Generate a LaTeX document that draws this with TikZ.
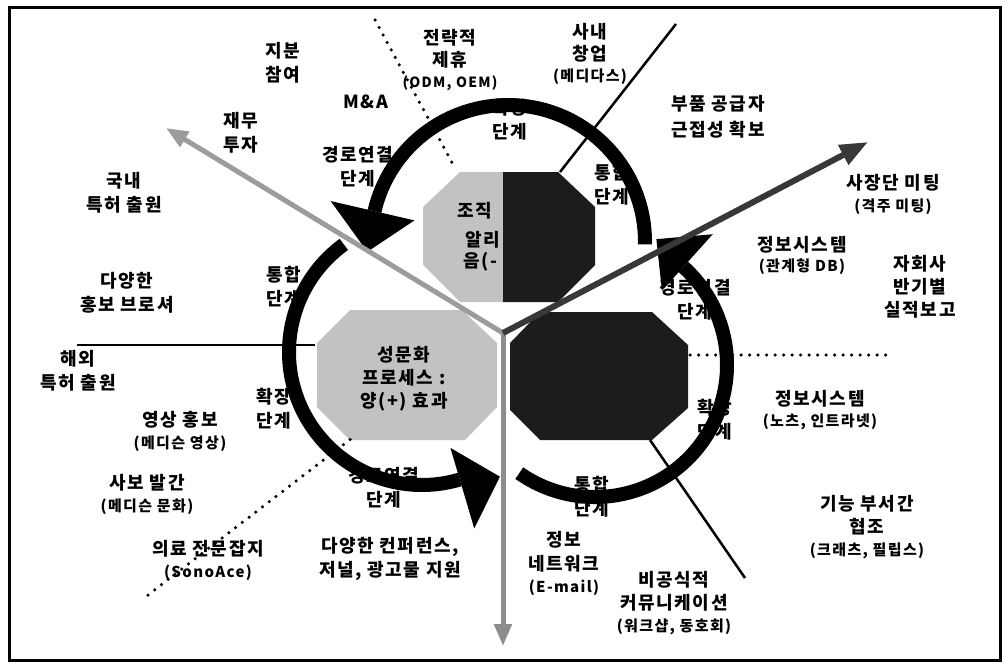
\documentclass[tikz,border=0pt]{standalone}
\usepackage{fontspec}
\newfontfamily\kr[LetterSpace=9]{Noto Sans CJK KR}
\usetikzlibrary{calc,arrows.meta}
\definecolor{lightfill}{HTML}{C2C2C2}
\definecolor{darkfill}{HTML}{1C1C1C}
\definecolor{arrowgray}{HTML}{9C9C9C}
\definecolor{arrowdark}{HTML}{383838}
\newcommand\sm[1]{{\fontsize{15}{18}\selectfont #1}}
\tikzset{
  lbl/.style={align=center, inner sep=0pt, font=\kr\bfseries\fontsize{18}{24}\selectfont},
  ring/.style={line width=14pt, black},
  headfill/.style={fill=black},
  thinline/.style={line width=2.5pt, black},
  dotline/.style={line width=3.5pt, line cap=round, dash pattern=on 0pt off 8.5pt},
  grayarrow/.style={line width=5pt, arrowgray, -{Triangle[length=22pt,width=17pt]}},
  darkarrow/.style={line width=6pt, arrowdark, -{Triangle[length=28pt,width=21pt]}},
}
\begin{document}
\begin{tikzpicture}[x=1pt,y=-1pt]
\useasboundingbox (0,0) rectangle (1006,664);
\draw[line width=3pt] (9.5,7.5) rectangle (1000,660.5);

% key points
\coordinate (O) at (503,333);
\coordinate (C1) at (508,242);
\coordinate (C2) at (422,352);
\coordinate (C3) at (595,365);

% octagons
\fill[lightfill] (460,172) -- (558,172) -- (595,207) -- (595,265) -- (558,302) -- (460,302) -- (423,265) -- (423,207) -- cycle;
\node[lbl] (t1) at (475,211) {조직};
\node[lbl, anchor=west] (t2) at (465,240) {알리};
\node[lbl, anchor=west] (t3) at (463,262) {음(-};
\fill[darkfill] (503,172) -- (558,172) -- (595,207) -- (595,265) -- (558,302) -- (503,302) -- cycle;

\fill[lightfill] (350,310) -- (462,310) -- (497,343) -- (497,407) -- (465,440) -- (350,440) -- (317,407) -- (317,343) -- cycle;
\node[lbl, font=\kr\bfseries\fontsize{18}{23}\selectfont] (oct2) at (404,379) {성문화\\프로세스 :\\양(+) 효과};

\fill[darkfill] (540,312) -- (652,312) -- (688,345) -- (688,408) -- (652,440) -- (540,440) -- (510,410) -- (510,343) -- cycle;

% side lines
\coordinate (a1) at (560,172); \coordinate (a2) at (676,24);
\draw[thinline] (a1) -- (a2);
\coordinate (b1) at (77,345); \coordinate (b2) at (315,345);
\draw[thinline] (b1) -- (b2);
\coordinate (c1) at (650,440); \coordinate (c2) at (745,578);
\draw[thinline] (c1) -- (c2);
\coordinate (d1) at (375,20); \coordinate (d2) at (455,168);
\draw[dotline] (d1) -- (d2);
\coordinate (e1) at (690,355); \coordinate (e2) at (888,355);
\draw[dotline] (e1) -- (e2);
\coordinate (f1) at (148,595); \coordinate (f2) at (352,438);
\draw[dotline] (f1) -- (f2);

% stage labels
\node[lbl] (s1) at (510,120) {확장\\단계};
\node[lbl] (s2) at (612,185) {통합\\단계};
\node[lbl] (s3) at (358,167) {경로연결\\단계};
\node[lbl] (s4) at (284,287) {통합\\단계};
\node[lbl] (s5) at (274,409) {확장\\단계};
\node[lbl] (s6) at (384,488) {경로연결\\단계};
\node[lbl] (s7) at (592,497) {통합\\단계};
\node[lbl] (s8) at (715,420) {확장\\단계};
\node[lbl] (s9) at (695,300) {경로연결\\단계};

% rings with heads
\draw[ring] ($(C1)+(1:137)$) arc[start angle=1,end angle=-167,radius=137];
\fill[headfill] ($(C1)+(-167:96)$) -- ($(C1)+(-167:182)$) -- ($(C1)+(-184:141)$) -- cycle;
\draw[ring] ($(C2)+(-126:133)$) arc[start angle=-126,end angle=-286.5,radius=133];
\fill[headfill] ($(C2)+(-286.5:100)$) -- ($(C2)+(-286.5:184)$) -- ($(C2)+(-302:147)$) -- cycle;
\draw[ring] ($(C3)+(125:132)$) arc[start angle=125,end angle=-48,radius=132];
\fill[headfill] ($(C3)+(-48:100)$) -- ($(C3)+(-48:176)$) -- ($(C3)+(-64:140)$) -- cycle;

% axes
\coordinate (ULtip) at (166,128);
\coordinate (URtip) at (868,142);
\coordinate (Dtip) at (503,646);
\draw[grayarrow] (O) -- (ULtip);
\draw[grayarrow, arrowgray!90!black] (O) -- (Dtip);
\draw[darkarrow] (O) -- (URtip);

% outer labels
\node[lbl] (n1) at (283,63) {지분\\참여};
\node[lbl] (n2) at (450,60) {전략적\\[-2pt]제휴\\[-3pt]{\kr\bfseries\fontsize{14}{17}\selectfont (ODM, OEM)}};
\node[lbl] (n3) at (590,54) {사내\\[-2pt]창업\\[-3pt]\sm{(메디다스)}};
\node[lbl] (n4) at (366,102) {M\&A};
\node[lbl] (n5) at (241,133) {재무\\투자};
\node[lbl] (n6) at (718,117) {부품 공급자\\[2pt]근접성 확보};
\node[lbl] (n7) at (124,193) {국내\\특허 출원};
\node[lbl] (n8) at (893,194) {사장단 미팅\\[-2pt]\sm{(격주 미팅)}};
\node[lbl] (n9) at (127,293) {다양한\\홍보 브로셔};
\node[lbl] (n10) at (802,255) {정보시스템\\[-4pt]\sm{(관계형 DB)}};
\node[lbl] (n11) at (920,287) {자회사\\[-1pt]반기별\\[-1pt]실적보고};
\node[lbl] (n12) at (78,371) {해외\\특허 출원};
\node[lbl] (n13) at (820,410) {정보시스템\\[-3pt]\sm{(노츠, 인트라넷)}};
\node[lbl] (n14) at (180,431) {영상 홍보\\[-2pt]\sm{(메디슨 영상)}};
\node[lbl] (n15) at (147,494) {사보 발간\\[-2pt]\sm{(메디슨 문화)}};
\node[lbl] (n16) at (867,527) {기능 부서간\\[-1pt]협조\\[-2pt]\sm{(크래츠, 필립스)}};
\node[lbl] (n17) at (208,560) {의료 전문잡지\\[-2pt]\sm{(SonoAce)}};
\node[lbl] (n18) at (390,559) {다양한 컨퍼런스,\\저널, 광고물 지원};
\node[lbl] (n19) at (564,563) {정보\\네트워크\\[-2pt]\sm{(E-mail)}};
\node[lbl] (n20) at (674,603) {비공식적\\[-1pt]커뮤니케이션\\[-2pt]\sm{(워크샵, 동호회)}};
\end{tikzpicture}
\end{document}
